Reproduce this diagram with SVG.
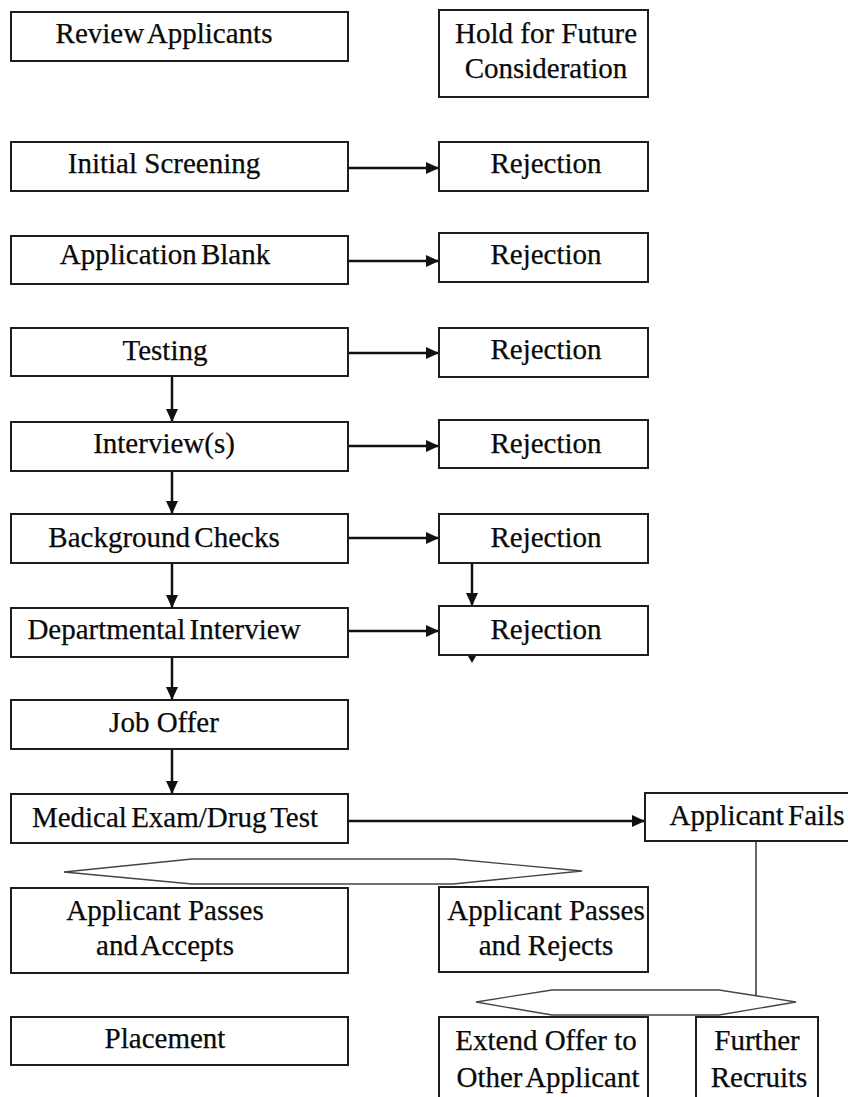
<svg xmlns="http://www.w3.org/2000/svg" width="848" height="1097" viewBox="0 0 848 1097">
  <style>
    .box { fill: #ffffff; stroke: #1e1e1e; stroke-width: 2; }
    .lbl { font-family: "Liberation Serif", "DejaVu Serif", serif; font-size: 29px; fill: #0a0a0a; text-anchor: middle; stroke: #0a0a0a; stroke-width: 0.25; word-spacing: -3px; }
    .lbl.sp { word-spacing: 0px; }
    .flow { stroke: #111111; stroke-width: 2.5; fill: none; }
    .thin { stroke: #333333; stroke-width: 1.5; fill: none; }
    .hex { stroke: #444444; stroke-width: 1.3; fill: #ffffff; }
  </style>
  <defs>
    <marker id="arrow" markerUnits="userSpaceOnUse" markerWidth="14" markerHeight="12" refX="13" refY="6" orient="auto">
      <path d="M0,0 L13,6 L0,12 Z" fill="#111111"/>
    </marker>
  </defs>
  <rect width="848" height="1097" fill="#ffffff"/>

  <!-- connectors -->
  <g id="connectors">
    <!-- to rejection boxes -->
    <line class="flow" x1="348" y1="168" x2="439" y2="168" marker-end="url(#arrow)"/>
    <line class="flow" x1="348" y1="261" x2="439" y2="261" marker-end="url(#arrow)"/>
    <line class="flow" x1="348" y1="353" x2="439" y2="353" marker-end="url(#arrow)"/>
    <line class="flow" x1="348" y1="446" x2="439" y2="446" marker-end="url(#arrow)"/>
    <line class="flow" x1="348" y1="538" x2="439" y2="538" marker-end="url(#arrow)"/>
    <line class="flow" x1="348" y1="631" x2="439" y2="631" marker-end="url(#arrow)"/>
    <!-- main downward flow -->
    <line class="flow" x1="172" y1="376" x2="172" y2="422" marker-end="url(#arrow)"/>
    <line class="flow" x1="172" y1="471" x2="172" y2="514" marker-end="url(#arrow)"/>
    <line class="flow" x1="172" y1="563" x2="172" y2="608" marker-end="url(#arrow)"/>
    <line class="flow" x1="172" y1="657" x2="172" y2="700" marker-end="url(#arrow)"/>
    <line class="flow" x1="172" y1="749" x2="172" y2="794" marker-end="url(#arrow)"/>
    <!-- rejection to rejection -->
    <line class="flow" x1="472" y1="563" x2="472" y2="606" marker-end="url(#arrow)"/>
    <path d="M468,656 L476,656 L472,663 Z" fill="#111111"/>
    <!-- medical exam to applicant fails -->
    <line class="flow" x1="348" y1="821" x2="645" y2="821" marker-end="url(#arrow)"/>
    <!-- fails branch -->
    <line class="thin" x1="756" y1="841" x2="756" y2="996"/>
    <!-- outcome splitters -->
    <polygon class="hex" points="64,872 192,859 453,859 582,871 453,884 192,884"/>
    <polygon class="hex" points="476,1002 552,990 719,990 796,1002 719,1015 552,1015"/>
  </g>

  <!-- left column -->
  <g id="review-applicants">
    <rect class="box" x="11" y="12" width="337" height="49"/>
    <text class="lbl" x="164" y="43">Review Applicants</text>
  </g>
  <g id="initial-screening">
    <rect class="box" x="11" y="142" width="337" height="49"/>
    <text class="lbl sp" x="164" y="173">Initial Screening</text>
  </g>
  <g id="application-blank">
    <rect class="box" x="11" y="236" width="337" height="48"/>
    <text class="lbl" x="165" y="264">Application Blank</text>
  </g>
  <g id="testing">
    <rect class="box" x="11" y="328" width="337" height="48"/>
    <text class="lbl" x="165" y="360">Testing</text>
  </g>
  <g id="interviews">
    <rect class="box" x="11" y="422" width="337" height="49"/>
    <text class="lbl" x="164" y="453">Interview(s)</text>
  </g>
  <g id="background-checks">
    <rect class="box" x="11" y="514" width="337" height="49"/>
    <text class="lbl" x="164" y="547">Background Checks</text>
  </g>
  <g id="departmental-interview">
    <rect class="box" x="11" y="608" width="337" height="49"/>
    <text class="lbl" x="164" y="639">Departmental Interview</text>
  </g>
  <g id="job-offer">
    <rect class="box" x="11" y="700" width="337" height="49"/>
    <text class="lbl sp" x="164" y="732">Job Offer</text>
  </g>
  <g id="medical-exam">
    <rect class="box" x="11" y="794" width="337" height="49"/>
    <text class="lbl" x="175" y="827">Medical Exam/Drug Test</text>
  </g>
  <g id="passes-accepts">
    <rect class="box" x="11" y="888" width="337" height="85"/>
    <text class="lbl sp" x="165" y="920">Applicant Passes</text>
    <text class="lbl" x="165" y="955">and Accepts</text>
  </g>
  <g id="placement">
    <rect class="box" x="11" y="1017" width="337" height="48"/>
    <text class="lbl" x="165" y="1048">Placement</text>
  </g>

  <!-- right column -->
  <g id="hold-future">
    <rect class="box" x="439" y="10" width="209" height="87"/>
    <text class="lbl sp" x="546" y="43">Hold for Future</text>
    <text class="lbl" x="546" y="78">Consideration</text>
  </g>
  <g id="rejection-1">
    <rect class="box" x="439" y="142" width="209" height="49"/>
    <text class="lbl" x="546" y="173">Rejection</text>
  </g>
  <g id="rejection-2">
    <rect class="box" x="439" y="233" width="209" height="49"/>
    <text class="lbl" x="546" y="264">Rejection</text>
  </g>
  <g id="rejection-3">
    <rect class="box" x="439" y="328" width="209" height="49"/>
    <text class="lbl" x="546" y="359">Rejection</text>
  </g>
  <g id="rejection-4">
    <rect class="box" x="439" y="420" width="209" height="48"/>
    <text class="lbl" x="546" y="453">Rejection</text>
  </g>
  <g id="rejection-5">
    <rect class="box" x="439" y="514" width="209" height="49"/>
    <text class="lbl" x="546" y="547">Rejection</text>
  </g>
  <g id="rejection-6">
    <rect class="box" x="439" y="606" width="209" height="49"/>
    <text class="lbl" x="546" y="639">Rejection</text>
  </g>
  <g id="passes-rejects">
    <rect class="box" x="439" y="887" width="209" height="85"/>
    <text class="lbl sp" x="546" y="920">Applicant Passes</text>
    <text class="lbl sp" x="546" y="955">and Rejects</text>
  </g>
  <g id="applicant-fails">
    <rect class="box" x="645" y="793" width="206" height="48"/>
    <text class="lbl" x="757" y="825">Applicant Fails</text>
  </g>
  <g id="extend-offer">
    <rect class="box" x="439" y="1017" width="209" height="84"/>
    <text class="lbl sp" x="546" y="1050">Extend Offer to</text>
    <text class="lbl" x="548" y="1087">Other Applicant</text>
  </g>
  <g id="further-recruits">
    <rect class="box" x="696" y="1017" width="122" height="84"/>
    <text class="lbl" x="757" y="1050">Further</text>
    <text class="lbl" x="759" y="1087">Recruits</text>
  </g>
</svg>
